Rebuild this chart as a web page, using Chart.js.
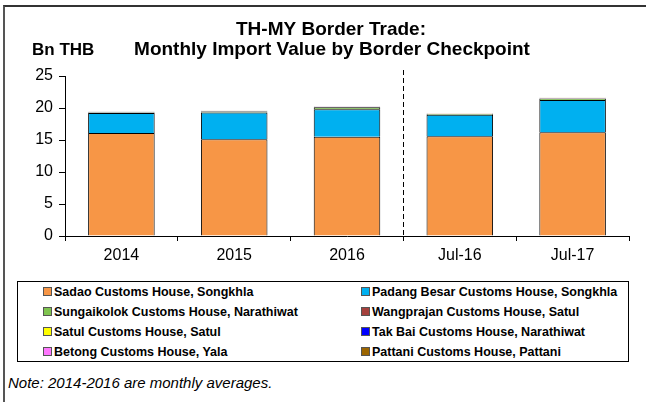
<!DOCTYPE html>
<html>
<head>
<meta charset="utf-8">
<script src="https://cdn.jsdelivr.net/npm/chart.js@4"></script>
<style>
  body { margin: 0; background: #fff; font-family: "Liberation Sans", Arial, sans-serif; }
  #page { position: relative; width: 646px; height: 402px; overflow: hidden; }
  #frame { position: absolute; left: 3px; top: 5px; width: 660px; height: 420px;
           border-left: 2px solid #555; border-top: 2px solid #333; }
  #chartBox { position: absolute; left: 0; top: 0; width: 646px; height: 275px; }
  #legend { position: absolute; left: 17px; top: 281px; width: 612px; height: 81px;
            border: 1px solid #000; box-sizing: border-box; }
  .item { position: absolute; font-size: 12.5px; font-weight: bold; color: #000; white-space: nowrap; }
  .swatch { display: inline-block; width: 7px; height: 7px; border: 1px solid #555;
            margin-right: 2px; vertical-align: 0px; }
  #note { position: absolute; left: 8px; top: 374px; font-size: 15px; font-style: italic; color: #000; }
</style>
</head>
<body>
<div id="page">
  <div id="frame"></div>
  <div id="chartBox"><canvas id="tradeChart"></canvas></div>
  <div id="legend"></div>
  <div id="note">Note: 2014-2016 are monthly averages.</div>
</div>
<script>
// Categories and values (Bn THB)
const categories = ['2014', '2015', '2016', 'Jul-16', 'Jul-17'];
const yTicks = [0, 5, 10, 15, 20, 25];

const sadao       = [16.1, 15.1, 15.5, 15.6, 16.2];
const padangBesar = [3.1, 4.2, 4.3, 3.35, 5.05];
const sungaikolok = [0.1, 0.15, 0.3, 0.12, 0.2];
const wangprajan  = [0.03, 0.04, 0.05, 0.04, 0.06];
const satul       = [0.02, 0.03, 0.03, 0.03, 0.03];
const takBai      = [0.02, 0.02, 0.03, 0.02, 0.03];
const betong      = [0.01, 0.01, 0.01, 0.01, 0.01];
const pattani     = [0.02, 0.02, 0.02, 0.02, 0.02];

const seriesNames = [
  'Sadao Customs House, Songkhla',
  'Padang Besar Customs House, Songkhla',
  'Sungaikolok Customs House, Narathiwat',
  'Wangprajan Customs House, Satul',
  'Satul Customs House, Satul',
  'Tak Bai Customs House, Narathiwat',
  'Betong Customs House, Yala',
  'Pattani Customs House, Pattani'
];
const seriesValues = [sadao, padangBesar, sungaikolok, wangprajan, satul, takBai, betong, pattani];
const seriesColors = ['#F79646', '#00B0F0', '#7FC44F', '#A5403C', '#FFFF00', '#0000FF', '#FF77FF', '#9C6500'];

const FONT = '"Liberation Sans", Arial, sans-serif';

// title, unit label and dashed divider
const decor = {
  id: 'decor',
  afterDraw(chart) {
    const ctx = chart.ctx;
    const x = chart.scales.x;
    const area = chart.chartArea;
    ctx.save();
    ctx.fillStyle = '#000';
    ctx.textAlign = 'center';
    ctx.textBaseline = 'middle';
    ctx.font = 'bold 19px ' + FONT;
    ctx.fillText('TH-MY Border Trade:', 331, 30);
    ctx.fillText('Monthly Import Value by Border Checkpoint', 332, 50);
    ctx.textAlign = 'left';
    ctx.font = 'bold 17px ' + FONT;
    ctx.fillText('Bn THB', 32, 50);
    // divider between annual averages and monthly values
    const xd = (x.getPixelForValue(2) + x.getPixelForValue(3)) / 2;
    ctx.strokeStyle = '#000';
    ctx.lineWidth = 1;
    ctx.setLineDash([5, 3]);
    ctx.beginPath();
    ctx.moveTo(Math.round(xd) + 0.5, 70);
    ctx.lineTo(Math.round(xd) + 0.5, area.bottom);
    ctx.stroke();
    ctx.restore();
  }
};

new Chart(document.getElementById('tradeChart'), {
  type: 'bar',
  data: {
    labels: categories,
    datasets: seriesNames.map((name, i) => ({
      label: name,
      data: seriesValues[i],
      backgroundColor: seriesColors[i],
      borderColor: '#000',
      borderWidth: 1,
      categoryPercentage: 0.59,
      barPercentage: 1
    }))
  },
  options: {
    responsive: true,
    maintainAspectRatio: false,
    animation: false,
    layout: { padding: { left: 5, right: 17, top: 76, bottom: 9 } },
    plugins: {
      legend: { display: false },
      title: { display: false },
      tooltip: { enabled: false }
    },
    scales: {
      x: {
        stacked: true,
        offset: true,
        grid: { offset: true, drawOnChartArea: false, color: '#000', tickLength: 5 },
        border: { color: '#000' },
        ticks: { color: '#000', font: { family: FONT, size: 16 }, padding: 5 },
        afterFit(s) { s.height = 30; }
      },
      y: {
        stacked: true,
        min: 0,
        max: 25,
        afterBuildTicks(s) { s.ticks = yTicks.map(v => ({ value: v })); },
        grid: { drawOnChartArea: false, color: '#000', tickLength: 6 },
        border: { color: '#000' },
        ticks: { color: '#000', font: { family: FONT, size: 16 }, padding: 6 },
        afterFit(s) { s.width = 60; }
      }
    }
  },
  plugins: [decor]
});

// legend box, two columns
const legend = document.getElementById('legend');
seriesNames.forEach((name, i) => {
  const el = document.createElement('div');
  el.className = 'item';
  el.style.left = (i % 2 === 0 ? 25 : 343) + 'px';
  el.style.top = (3 + Math.floor(i / 2) * 20) + 'px';
  el.innerHTML = '<span class="swatch" style="background:' + seriesColors[i] + '"></span>' + name;
  legend.appendChild(el);
});
</script>
</body>
</html>
